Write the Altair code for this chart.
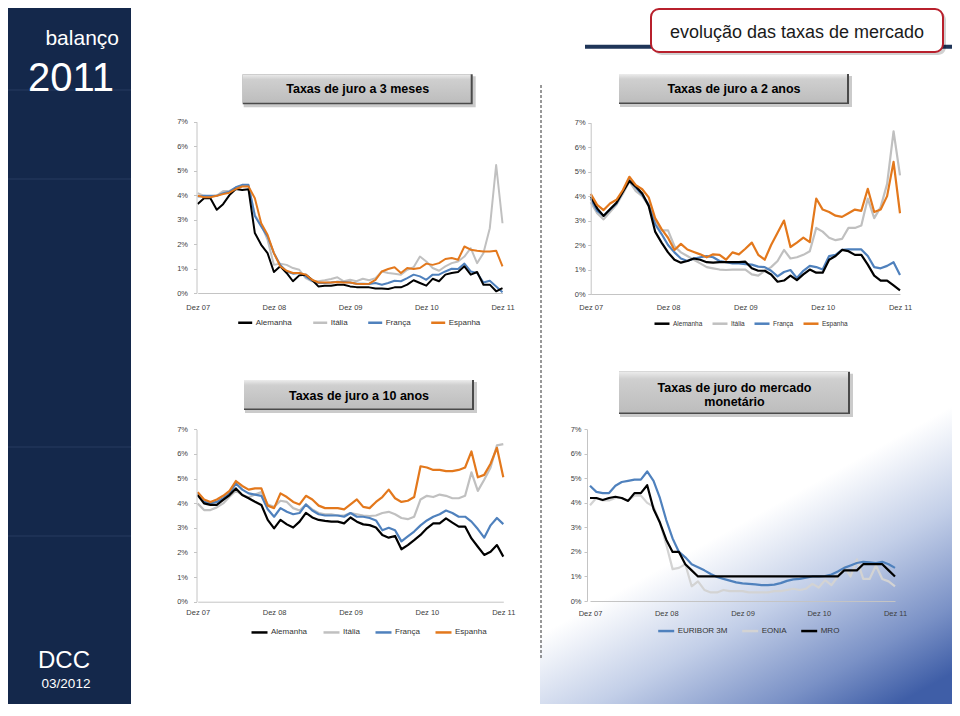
import altair as alt
import pandas as pd

# ---------------- data ----------------
MONTHS = list(range(49))          # Dez 07 ... Dez 11, monthly
X_TICKS = [0, 12, 24, 36, 48]
X_LABELS = ["Dez 07", "Dez 08", "Dez 09", "Dez 10", "Dez 11"]
Y_TICKS = [0, 1, 2, 3, 4, 5, 6, 7]

COUNTRIES = ["Alemanha", "Itália", "França", "Espanha"]
COUNTRY_COLORS = ["#000000", "#c0c0c0", "#4f81bd", "#e3781c"]
MM_SERIES = ["EURIBOR 3M", "EONIA", "MRO"]
MM_COLORS = ["#4f81bd", "#d3d3d3", "#000000"]

# Taxas de juro a 3 meses
ALE_3M = [3.64, 3.87, 3.87, 3.40, 3.63, 4.00, 4.25, 4.21, 4.24, 2.45,
          1.97, 1.63, 0.86, 1.09, 0.82, 0.48, 0.72, 0.75, 0.54, 0.27,
          0.30, 0.30, 0.34, 0.34, 0.27, 0.24, 0.23, 0.23, 0.18, 0.18,
          0.16, 0.23, 0.23, 0.34, 0.52, 0.41, 0.30, 0.58, 0.48, 0.75,
          0.82, 0.86, 1.09, 0.75, 0.86, 0.34, 0.34, 0.07, 0.20]
ITA_3M = [4.08, 3.97, 3.94, 3.98, 4.17, 4.17, 4.31, 4.38, 4.38, 3.19,
          2.79, 2.17, 1.15, 1.20, 1.15, 1.02, 0.95, 0.61, 0.48, 0.48,
          0.52, 0.57, 0.64, 0.48, 0.54, 0.48, 0.58, 0.52, 0.61, 0.88,
          0.82, 0.79, 0.75, 0.95, 1.05, 1.49, 1.29, 1.02, 0.91, 1.09,
          1.22, 1.29, 1.49, 1.83, 1.22, 1.63, 2.65, 5.23, 2.85]
FRA_3M = [3.94, 3.97, 3.97, 3.97, 4.08, 4.14, 4.32, 4.42, 4.42, 3.15,
          2.72, 2.31, 1.63, 1.15, 0.88, 0.79, 0.82, 0.68, 0.50, 0.41,
          0.41, 0.43, 0.46, 0.45, 0.43, 0.38, 0.38, 0.37, 0.41, 0.34,
          0.41, 0.50, 0.48, 0.61, 0.75, 0.68, 0.54, 0.75, 0.75, 0.88,
          0.99, 0.98, 1.20, 0.88, 0.82, 0.43, 0.50, 0.27, 0.03]
ESP_3M = [3.97, 3.91, 3.91, 3.97, 4.04, 4.10, 4.25, 4.35, 4.35, 3.87,
          2.85, 2.38, 1.63, 1.09, 0.91, 0.82, 0.82, 0.75, 0.54, 0.43,
          0.43, 0.43, 0.45, 0.43, 0.43, 0.38, 0.37, 0.38, 0.54, 0.88,
          0.98, 1.05, 0.82, 1.02, 0.98, 1.02, 1.20, 1.15, 1.22, 1.39,
          1.43, 1.36, 1.90, 1.77, 1.73, 1.70, 1.70, 1.73, 1.09]

# Taxas de juro a 2 anos
ALE_2A = [4.00, 3.50, 3.19, 3.46, 3.73, 4.18, 4.62, 4.39, 4.11, 3.60,
          2.55, 2.10, 1.70, 1.40, 1.28, 1.35, 1.45, 1.40, 1.30, 1.28,
          1.30, 1.30, 1.30, 1.30, 1.32, 1.05, 0.95, 0.95, 0.80, 0.50,
          0.55, 0.75, 0.57, 0.80, 1.00, 0.87, 0.87, 1.40, 1.55, 1.80,
          1.75, 1.60, 1.60, 1.20, 0.75, 0.55, 0.55, 0.35, 0.15]
ITA_2A = [3.75, 3.30, 3.05, 3.35, 3.65, 4.10, 4.60, 4.20, 4.00, 3.60,
          3.00, 2.60, 2.60, 1.95, 1.70, 1.55, 1.40, 1.25, 1.10, 1.05,
          1.00, 0.98, 1.00, 1.00, 1.00, 0.80, 0.75, 0.95, 1.10, 1.35,
          1.80, 1.45, 1.50, 1.60, 1.75, 2.70, 2.55, 2.30, 2.20, 2.25,
          2.70, 2.70, 2.80, 3.90, 3.10, 3.55, 4.50, 6.65, 4.85]
FRA_2A = [3.90, 3.40, 3.20, 3.45, 3.70, 4.20, 4.65, 4.35, 4.05, 3.65,
          2.85, 2.45, 2.00, 1.70, 1.45, 1.35, 1.45, 1.50, 1.55, 1.50,
          1.35, 1.30, 1.25, 1.25, 1.22, 1.20, 1.12, 1.10, 0.95, 0.72,
          0.90, 0.98, 0.65, 0.95, 1.15, 1.10, 1.00, 1.55, 1.60, 1.80,
          1.82, 1.82, 1.82, 1.55, 1.10, 1.05, 1.15, 1.30, 0.78]
ESP_2A = [4.09, 3.64, 3.43, 3.70, 3.85, 4.25, 4.79, 4.45, 4.28, 3.95,
          3.10, 2.65, 2.30, 1.80, 2.05, 1.82, 1.72, 1.62, 1.50, 1.62,
          1.60, 1.40, 1.70, 1.62, 1.85, 2.10, 1.60, 1.40, 2.00, 2.50,
          3.00, 1.92, 2.10, 2.30, 2.12, 3.90, 3.45, 3.35, 3.20, 3.15,
          3.30, 3.45, 3.40, 4.30, 3.35, 3.45, 4.00, 5.40, 3.30]

# Taxas de juro a 10 anos
ALE_10A = [4.33, 3.99, 3.93, 3.93, 4.13, 4.33, 4.60, 4.33, 4.20, 4.06,
           3.93, 3.32, 2.98, 3.32, 3.14, 3.01, 3.25, 3.61, 3.42, 3.32,
           3.28, 3.25, 3.25, 3.18, 3.42, 3.25, 3.14, 3.11, 3.01, 2.71,
           2.60, 2.67, 2.13, 2.30, 2.50, 2.71, 2.98, 3.18, 3.18, 3.38,
           3.21, 3.05, 3.05, 2.57, 2.23, 1.90, 2.03, 2.30, 1.83]
ITA_10A = [3.99, 3.72, 3.72, 3.83, 3.99, 4.26, 4.51, 4.33, 4.24, 4.35,
           4.45, 3.95, 3.85, 4.10, 4.05, 3.80, 3.70, 3.95, 3.75, 3.60,
           3.55, 3.55, 3.50, 3.50, 3.60, 3.55, 3.50, 3.48, 3.50, 3.60,
           3.65, 3.55, 3.40, 3.35, 3.45, 4.15, 4.30, 4.25, 4.35, 4.30,
           4.20, 4.20, 4.30, 5.25, 4.50, 4.95, 5.45, 6.35, 6.40]
FRA_10A = [4.40, 4.05, 4.00, 4.05, 4.20, 4.40, 4.80, 4.55, 4.40, 4.35,
           4.30, 3.75, 3.45, 3.80, 3.65, 3.55, 3.60, 3.95, 3.70, 3.55,
           3.50, 3.50, 3.50, 3.45, 3.60, 3.45, 3.45, 3.40, 3.30, 2.90,
           3.00, 2.90, 2.45, 2.65, 2.85, 3.10, 3.30, 3.45, 3.55, 3.70,
           3.60, 3.45, 3.45, 3.25, 2.95, 2.60, 3.10, 3.40, 3.15]
ESP_10A = [4.45, 4.15, 4.05, 4.15, 4.30, 4.50, 4.90, 4.70, 4.55, 4.60,
           4.60, 3.90, 3.80, 4.40, 4.25, 4.05, 3.95, 4.30, 4.15, 3.90,
           3.80, 3.80, 3.80, 3.75, 3.95, 4.15, 3.85, 3.80, 4.05, 4.25,
           4.55, 4.20, 4.05, 4.10, 4.25, 5.50, 5.45, 5.35, 5.35, 5.30,
           5.30, 5.35, 5.45, 6.10, 5.05, 5.15, 5.60, 6.25, 5.05]

# Taxas de juro do mercado monetário
EUR_3M = [4.70, 4.45, 4.40, 4.40, 4.70, 4.85, 4.90, 4.95, 4.95, 5.28,
          4.90, 4.20, 3.30, 2.55, 2.00, 1.78, 1.50, 1.38, 1.25, 1.10,
          0.98, 0.90, 0.83, 0.76, 0.72, 0.70, 0.68, 0.65, 0.65, 0.67,
          0.73, 0.82, 0.88, 0.90, 0.95, 1.00, 1.00, 1.02, 1.08, 1.20,
          1.35, 1.45, 1.55, 1.60, 1.58, 1.55, 1.60, 1.50, 1.35]
EONIA = [3.90, 4.20, 4.10, 4.10, 4.20, 4.20, 4.10, 4.30, 4.30, 4.00,
         3.85, 3.20, 2.30, 1.30, 1.35, 1.50, 0.60, 0.80, 0.45, 0.35,
         0.35, 0.45, 0.40, 0.40, 0.40, 0.35, 0.35, 0.35, 0.35, 0.40,
         0.40, 0.45, 0.50, 0.45, 0.50, 0.70, 0.55, 0.85, 0.65, 1.00,
         1.40, 1.00, 1.70, 0.90, 0.90, 1.45, 0.90, 0.80, 0.60]
MRO = [4.20, 4.20, 4.12, 4.20, 4.25, 4.20, 4.08, 4.40, 4.40, 4.72,
       3.75, 3.20, 2.50, 2.00, 2.00, 1.50, 1.25, 1.00, 1.00, 1.00,
       1.00, 1.00, 1.00, 1.00, 1.00, 1.00, 1.00, 1.00, 1.00, 1.00,
       1.00, 1.00, 1.00, 1.00, 1.00, 1.00, 1.00, 1.00, 1.00, 1.00,
       1.25, 1.25, 1.25, 1.50, 1.50, 1.50, 1.50, 1.25, 1.00]

# ---------------- layout helpers ----------------
W, H = 944, 696
SANS = "Liberation Sans, Arial, sans-serif"
NARROW = "Liberation Sans Narrow, Liberation Sans, Arial, sans-serif"
ONE = pd.DataFrame({"k": [0]})


def long_df(pairs):
    rows = []
    for name, vals in pairs:
        for m, v in zip(MONTHS, vals):
            rows.append({"m": m, "v": v, "s": name})
    return pd.DataFrame(rows)


def rect(x, x2, y, y2, **kw):
    return alt.Chart(ONE).mark_rect(**kw).encode(
        x=alt.value(x), x2=alt.value(x2), y=alt.value(y), y2=alt.value(y2))


def text(x, y, t, **kw):
    kw.setdefault("font", SANS)
    kw.setdefault("baseline", "alphabetic")
    return alt.Chart(ONE).mark_text(text=t, **kw).encode(x=alt.value(x), y=alt.value(y))


def rule(x, y, x2, y2, **kw):
    return alt.Chart(ONE).mark_rule(**kw).encode(
        x=alt.value(x), y=alt.value(y), x2=alt.value(x2), y2=alt.value(y2))


LABEL_EXPR = "[" + ",".join("'%s'" % t for t in X_LABELS) + "][round(datum.value / 12)]"


def panel(df, names, colors, x0, x1, y0, y7, yaxis_x, xpad, ypad, leg_x, leg_y,
          leg_font, leg_pad, sym_len, sw=2.0):
    return alt.Chart(df).mark_line(strokeWidth=sw, strokeJoin="round").encode(
        x=alt.X("m:Q",
                scale=alt.Scale(domain=[0, 48], range=[x0, x1], nice=False, zero=False),
                axis=alt.Axis(orient="bottom", offset=y0 - H, values=X_TICKS,
                              labelExpr=LABEL_EXPR, grid=False, ticks=False, tickSize=0,
                              labelPadding=xpad, domainColor="#c4c4c4", domainWidth=1,
                              labelFont=NARROW, labelFontSize=7.5, labelColor="#404040",
                              labelFlush=False, labelOverlap=False, title=None, zindex=1)),
        y=alt.Y("v:Q",
                scale=alt.Scale(domain=[0, 7], range=[y0, y7], nice=False, zero=False),
                axis=alt.Axis(orient="left", offset=-yaxis_x, values=Y_TICKS,
                              labelExpr="datum.value + '%'", grid=False, tickSize=3,
                              tickColor="#c4c4c4", labelPadding=ypad, domainColor="#c4c4c4",
                              labelFont=NARROW, labelFontSize=7.5, labelColor="#404040",
                              title=None, zindex=1)),
        color=alt.Color("s:N",
                        scale=alt.Scale(domain=names, range=colors),
                        legend=alt.Legend(orient="none", legendX=leg_x, legendY=leg_y,
                                          direction="horizontal", title=None,
                                          symbolType="stroke", symbolSize=sym_len ** 2,
                                          symbolStrokeWidth=2.5, labelFont=NARROW,
                                          labelFontSize=leg_font, labelColor="#333333",
                                          columnPadding=leg_pad, labelOffset=2, padding=0)),
    )


grad_box = alt.LinearGradient(
    gradient="linear", x1=0, y1=0, x2=0, y2=1,
    stops=[alt.GradientStop(offset=0, color="#ececec"),
           alt.GradientStop(offset=0.18, color="#cfcfcf"),
           alt.GradientStop(offset=1, color="#bdbdbd")])

bg_grad = alt.LinearGradient(
    gradient="linear", x1=0.45, y1=0.3, x2=0.85, y2=1.0,
    stops=[alt.GradientStop(offset=0, color="#ffffff"),
           alt.GradientStop(offset=0.28, color="#ffffff"),
           alt.GradientStop(offset=0.55, color="#c3cfe8"),
           alt.GradientStop(offset=0.82, color="#7a91c6"),
           alt.GradientStop(offset=1.05, color="#3f5ea7")])


def title_box(x, x2, y, y2, lines, ty, cx):
    out = [rect(x + 1, x2 + 3, y + 2, y2 + 3, fill="#8c8c8c", opacity=0.45),
           rect(x, x2, y, y2, fill="#4a4a4a"),
           rect(x, x2 - 2, y, y2 - 1.5, fill=grad_box)]
    out.append(text(cx, ty, lines, align="center", fontSize=12.5, fontWeight="bold",
                    color="#000000", lineHeight=14))
    return out


layers = []
# background glow (bottom right)
layers.append(rect(532, 944, 300, 700, fill=bg_grad))
# sidebar
layers.append(rect(-3, 123, 0, 700, fill="#14284b"))
for yy in [82, 171, 439, 528]:
    layers.append(rule(-3, yy, 123, yy, stroke="#273b60", strokeWidth=1))
layers.append(text(111, 37, "balanço", align="right", fontSize=21, color="#ffffff"))
layers.append(text(106, 83, "2011", align="right", fontSize=40, color="#ffffff"))
layers.append(text(56, 660, "DCC", align="center", fontSize=24, color="#ffffff"))
layers.append(text(58, 680, "03/2012", align="center", fontSize=13.5, color="#ffffff"))
# header
layers.append(rule(577, 38.7, 944, 38.7, stroke="#1f3558", strokeWidth=4))
layers.append(rect(646, 938, 4, 47, fill="#000000", opacity=0.18, cornerRadius=8))
layers.append(rect(643, 935, 1, 44, fill="#ffffff", stroke="#b8202c", strokeWidth=2,
                   cornerRadius=8))
layers.append(text(789, 30, "evolução das taxas de mercado", align="center", fontSize=18,
                   color="#1a1a1a"))
# dashed separator
layers.append(rule(533, 77, 533, 652, stroke="#333333", strokeDash=[3, 2], strokeWidth=1))
# panel title boxes
layers += title_box(234.7, 464.7, 66.3, 96.3, "Taxas de juro a 3 meses", 85.3, 349.7)
layers += title_box(611, 841, 66, 96, "Taxas de juro a 2 anos", 85, 726)
layers += title_box(236, 466, 372, 402, "Taxas de juro a 10 anos", 391.5, 351)
layers += title_box(611, 842, 363.7, 406, ["Taxas de juro do mercado", "monetário"],
                    383.7, 726.5)

# charts
df1 = long_df([("Itália", ITA_3M), ("França", FRA_3M), ("Alemanha", ALE_3M), ("Espanha", ESP_3M)])
df2 = long_df([("Itália", ITA_2A), ("França", FRA_2A), ("Alemanha", ALE_2A), ("Espanha", ESP_2A)])
df3 = long_df([("Itália", ITA_10A), ("França", FRA_10A), ("Alemanha", ALE_10A), ("Espanha", ESP_10A)])
df4 = long_df([("EONIA", EONIA), ("EURIBOR 3M", EUR_3M), ("MRO", MRO)])

layers.append(panel(df1, COUNTRIES, COUNTRY_COLORS, 189.7, 494.5, 285, 113.7, 188.5,
                    10, 6, 228.7, 306, 8, 15, 14))
layers.append(panel(df2, COUNTRIES, COUNTRY_COLORS, 582.7, 892, 286, 114.7, 582.7,
                    9, 2.5, 645, 306.7, 6.5, 4, 15, 2.2))
layers.append(panel(df3, COUNTRIES, COUNTRY_COLORS, 189.7, 495.3, 593.7, 421.3, 188.5,
                    7, 6, 242, 614.7, 8, 10, 16, 2.2))
layers.append(panel(df4, MM_SERIES, MM_COLORS, 582, 887, 593, 421.3, 579,
                    8.5, 3, 648.7, 613.3, 8, 9, 16, 2.2))

chart = alt.layer(*layers).properties(
    width=W, height=H, padding=0,
    autosize=alt.AutoSizeParams(type="none"),
).resolve_scale(
    x="independent", y="independent", color="independent"
).resolve_axis(
    x="independent", y="independent"
).resolve_legend(
    color="independent"
).configure_view(strokeWidth=0)

chart.save("out.html", embed_options={"renderer": "svg", "actions": False})
